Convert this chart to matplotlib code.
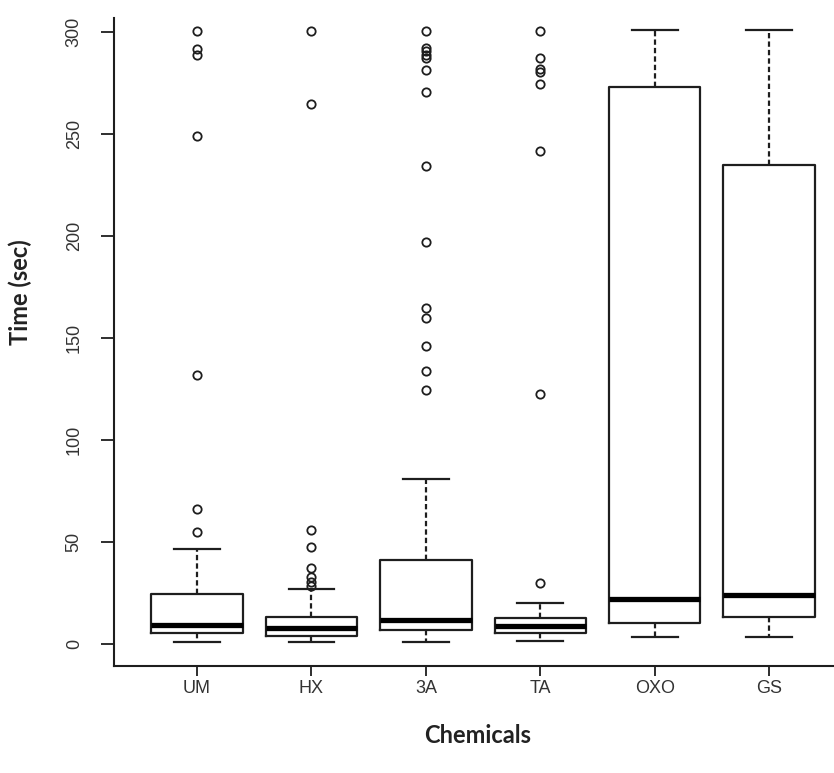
import matplotlib
matplotlib.use("Agg")
import matplotlib.pyplot as plt

# Boxplot summary (seconds)
chemicals = ["UM", "HX", "3A", "TA", "OXO", "GS"]
whisker_low = [1, 1, 1, 1.5, 3, 3]
q1 = [5, 3.7, 6.5, 5.4, 10, 13]
median = [9.3, 7.5, 11.8, 8.5, 22, 24]
q3 = [24.3, 13, 41, 12.8, 273, 235]
whisker_high = [46.5, 27, 81, 20, 301, 301]
outliers = [
    [55, 66, 132, 249, 289, 292, 300.5],
    [28.3, 30.3, 32.5, 37, 47.2, 55.8, 265, 300.5],
    [124.6, 134, 146, 160, 164.8, 197, 234.3, 270.8, 281.5, 287.4, 289, 290.7, 292.2, 300.5],
    [29.5, 122.6, 241.7, 274.6, 280.4, 282, 287.3, 300.5],
    [],
    [],
]

stats = []
for i, name in enumerate(chemicals):
    stats.append({
        "label": name,
        "whislo": whisker_low[i],
        "q1": q1[i],
        "med": median[i],
        "q3": q3[i],
        "whishi": whisker_high[i],
        "fliers": outliers[i],
    })

ink = "#1e1e1e"
text_col = "#333333"

fig = plt.figure(figsize=(8.34, 7.73), dpi=100)
ax = fig.add_axes([0.1367, 0.1384, 0.887, 0.8383])

ax.bxp(
    stats,
    positions=range(1, 7),
    widths=0.8,
    showfliers=True,
    boxprops=dict(color=ink, linewidth=1.6),
    medianprops=dict(color="black", linewidth=3.8, solid_capstyle="butt"),
    whiskerprops=dict(color=ink, linewidth=1.6, linestyle=(0, (2.4, 1.4))),
    capprops=dict(color=ink, linewidth=1.6),
    capwidths=0.4,
    flierprops=dict(marker="o", markerfacecolor="none", markeredgecolor=ink,
                    markersize=6, markeredgewidth=1.3, linestyle="none"),
)

ax.set_xlim(0.274, 6.74)
ax.set_ylim(-11, 307)
ax.set_yticks([0, 50, 100, 150, 200, 250, 300])

for side in ["top", "right"]:
    ax.spines[side].set_visible(False)
for side in ["left", "bottom"]:
    ax.spines[side].set_color(ink)
    ax.spines[side].set_linewidth(1.5)

tick_font = ["Liberation Sans", "DejaVu Sans"]
ax.tick_params(axis="both", direction="out", width=1.3, color=ink,
               labelcolor=text_col, labelsize=13)
ax.tick_params(axis="y", length=9.5, pad=13)
ax.tick_params(axis="x", length=7, pad=3)
for lab in ax.get_yticklabels():
    lab.set_rotation(90)
    lab.set_va("center")
    lab.set_family(tick_font)
for lab in ax.get_xticklabels():
    lab.set_family(tick_font)

label_font = ["Lato", "DejaVu Sans"]
ax.set_ylabel("Time (sec)", fontsize=17, fontweight="bold", family=label_font,
              color="#222222")
ax.yaxis.set_label_coords(-0.111, 0.577)
ax.set_xlabel("Chemicals", fontsize=17, fontweight="bold", family=label_font,
              color="#222222")
ax.xaxis.set_label_coords(0.491, -0.089)

fig.savefig("out.png", dpi=100)
